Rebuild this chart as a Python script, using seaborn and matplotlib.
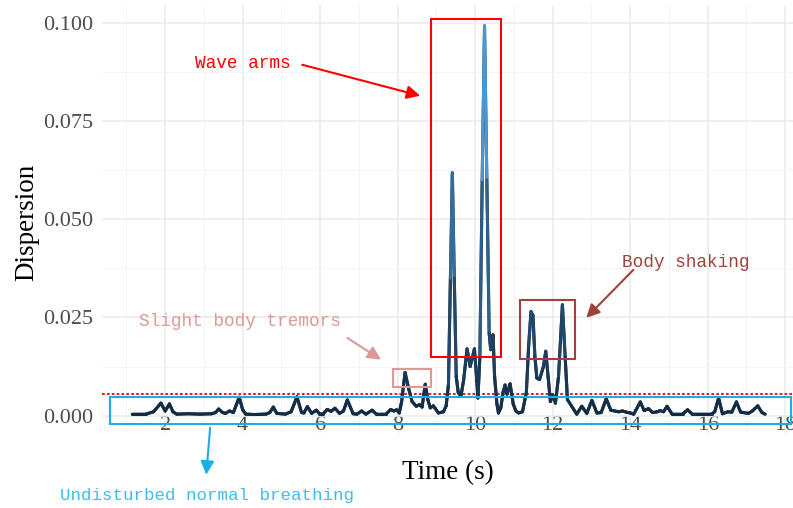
import numpy as np
import pandas as pd
import seaborn as sns
import matplotlib
matplotlib.use("Agg")
import matplotlib.pyplot as plt
from matplotlib.collections import LineCollection
from matplotlib.colors import LinearSegmentedColormap, Normalize
from matplotlib.patches import Rectangle
from matplotlib.ticker import MultipleLocator, FormatStrFormatter

# ---------------- data ----------------
time_s = [1.15, 1.50, 1.70, 1.89, 2.00, 2.11, 2.20, 2.30, 2.60, 2.90, 3.20, 3.30, 3.38, 3.48,
          3.56, 3.66, 3.76, 3.91, 4.00, 4.08, 4.30, 4.60, 4.70, 4.79, 4.88, 5.10, 5.25, 5.40,
          5.52, 5.58, 5.67, 5.78, 5.90, 5.98, 6.08, 6.18, 6.28, 6.38, 6.50, 6.60, 6.70, 6.85,
          6.95, 7.07, 7.18, 7.34, 7.45, 7.70, 7.82, 7.90, 7.97, 8.04, 8.10, 8.19, 8.28, 8.37,
          8.48, 8.56, 8.63, 8.71, 8.78, 8.84, 8.92, 9.05, 9.18, 9.25, 9.31, 9.36, 9.41, 9.46,
          9.51, 9.56, 9.63, 9.70, 9.79, 9.87, 9.98, 10.04, 10.07, 10.12, 10.18, 10.24, 10.30,
          10.36, 10.40, 10.46, 10.50, 10.56, 10.60, 10.66, 10.72, 10.77, 10.82, 10.90, 10.98,
          11.05, 11.12, 11.22, 11.32, 11.38, 11.44, 11.49, 11.54, 11.59, 11.66, 11.76, 11.82,
          11.88, 11.94, 12.00, 12.07, 12.15, 12.25, 12.32, 12.38, 12.49, 12.62, 12.75, 12.88,
          13.01, 13.14, 13.25, 13.38, 13.50, 13.60, 13.70, 13.80, 13.90, 14.00, 14.09, 14.26,
          14.36, 14.47, 14.58, 14.70, 14.77, 14.86, 14.95, 15.08, 15.35, 15.48, 15.60, 16.10,
          16.18, 16.28, 16.38, 16.52, 16.62, 16.74, 16.85, 17.05, 17.15, 17.29, 17.40, 17.48]
dispersion = [0.0004, 0.0004, 0.0010, 0.0032, 0.0012, 0.0030, 0.0010, 0.0004, 0.0005, 0.0004,
              0.0005, 0.0008, 0.0017, 0.0008, 0.0006, 0.0012, 0.0008, 0.0047, 0.0015, 0.0004,
              0.0003, 0.0004, 0.0008, 0.0022, 0.0006, 0.0004, 0.0010, 0.0048, 0.0008, 0.0007,
              0.0023, 0.0006, 0.0014, 0.0005, 0.0005, 0.0016, 0.0011, 0.0019, 0.0006, 0.0012,
              0.0040, 0.0005, 0.0004, 0.0012, 0.0004, 0.0014, 0.0004, 0.0004, 0.0016, 0.0012,
              0.0015, 0.0007, 0.0035, 0.0110, 0.0070, 0.0036, 0.0024, 0.0028, 0.0022, 0.0080,
              0.0040, 0.0020, 0.0025, 0.0007, 0.0010, 0.0025, 0.0080, 0.0350, 0.0618, 0.0350,
              0.0100, 0.0060, 0.0049, 0.0090, 0.0170, 0.0125, 0.0170, 0.0090, 0.0045, 0.0150,
              0.0600, 0.0992, 0.0600, 0.0210, 0.0168, 0.0206, 0.0100, 0.0030, 0.0007, 0.0020,
              0.0060, 0.0078, 0.0055, 0.0081, 0.0030, 0.0012, 0.0007, 0.0010, 0.0060, 0.0180,
              0.0265, 0.0255, 0.0150, 0.0096, 0.0092, 0.0125, 0.0164, 0.0100, 0.0036, 0.0053,
              0.0032, 0.0100, 0.0282, 0.0150, 0.0041, 0.0024, 0.0004, 0.0024, 0.0006, 0.0039,
              0.0007, 0.0008, 0.0043, 0.0014, 0.0012, 0.0010, 0.0012, 0.0009, 0.0007, 0.0004,
              0.0035, 0.0013, 0.0018, 0.0008, 0.0010, 0.0013, 0.0010, 0.0024, 0.0004, 0.0004,
              0.0015, 0.0004, 0.0004, 0.0010, 0.0045, 0.0005, 0.0010, 0.0009, 0.0035, 0.0009,
              0.0006, 0.0012, 0.0025, 0.0008, 0.0004]
threshold = 0.0056
x_ticks = [2, 4, 6, 8, 10, 12, 14, 16, 18]
y_ticks = [0.000, 0.025, 0.050, 0.075, 0.100]

label_wave = "Wave arms"
label_tremor = "Slight body tremors"
label_shake = "Body shaking"
label_normal = "Undisturbed normal breathing"

# ---------------- style ----------------
sns.set_theme(style="white")
plt.rcParams['font.family'] = ['Liberation Serif', 'DejaVu Serif']
mono = ['Liberation Mono', 'DejaVu Sans Mono']

fig = plt.figure(figsize=(7.93, 5.08), dpi=100)
W, H = 793, 508
pl, pr, pt, pb = 102, 793, 5, 433
ax = fig.add_axes([pl / W, 1 - pb / H, (pr - pl) / W, (pb - pt) / H])

df = pd.DataFrame({"Time": time_s, "Dispersion": dispersion})

sns.lineplot(data=df, x="Time", y="Dispersion", color="#1c3953", lw=2.2, ax=ax,
             solid_capstyle="round", solid_joinstyle="round", zorder=3)

# gradient colouring like ggplot's default continuous scale
cmap = LinearSegmentedColormap.from_list("gg", ["#132B43", "#56B1F7"])
xs = df["Time"].to_numpy()
ys = df["Dispersion"].to_numpy()
pts = np.column_stack([xs, ys]).reshape(-1, 1, 2)
segs = np.concatenate([pts[:-1], pts[1:]], axis=1)
lc = LineCollection(segs, cmap=cmap, norm=Normalize(ys.min(), ys.max()), lw=2.2,
                    capstyle="round", joinstyle="round", zorder=4)
lc.set_array((ys[:-1] + ys[1:]) / 2)
ax.add_collection(lc)

ax.axhline(threshold, color="red", ls=(0, (1.5, 1.2)), lw=1.3, zorder=2)

ax.set_xlim(0.37, 18.2)
ax.set_ylim(-0.0044, 0.1045)
ax.set_xticks(x_ticks)
ax.set_yticks(y_ticks)
ax.xaxis.set_minor_locator(MultipleLocator(1))
ax.yaxis.set_minor_locator(MultipleLocator(0.0125))
ax.yaxis.set_major_formatter(FormatStrFormatter("%.3f"))
ax.grid(which="major", color="#ebebeb", lw=1.1)
ax.grid(which="minor", color="#f4f4f4", lw=0.7)
ax.set_axisbelow(True)
for s in ax.spines.values():
    s.set_visible(False)
ax.tick_params(which="both", length=0, labelsize=16, labelcolor="#4d4d4d")
ax.tick_params(axis="x", pad=-12)
ax.tick_params(axis="y", pad=6.5)

ax.set_xlabel("Time (s)", fontsize=19.5, color="black")
ax.set_ylabel("Dispersion", fontsize=19.5, color="black")
ax.xaxis.set_label_coords((448 - pl) / (pr - pl), (pb - 473) / (pb - pt))
ax.xaxis.label.set_va("center")
ax.yaxis.set_label_coords((27 - pl) / (pr - pl), (pb - 222) / (pb - pt))
ax.yaxis.label.set_va("center")

# ---------------- annotations ----------------
def rect(x0, x1, y0, y1, color):
    ax.add_patch(Rectangle((x0, y0), x1 - x0, y1 - y0, fill=False, edgecolor=color,
                           lw=1.5, clip_on=False, zorder=5))

def arrow(start, end, color):
    ax.annotate("", xy=end, xytext=start, annotation_clip=False,
                arrowprops=dict(arrowstyle="-|>", color=color, lw=1.5, mutation_scale=20,
                                shrinkA=0, shrinkB=0), zorder=6)

c_wave, c_tremor, c_shake, c_normal = "#ff0000", "#dc9a95", "#a0413c", "#1aaee8"

rect(8.865, 10.67, 0.0150, 0.1010, c_wave)
arrow((5.535, 0.0893), (8.58, 0.0814), c_wave)
ax.text(4.01, 0.0896, label_wave, color=c_wave, family=mono, fontsize=12.8,
        ha="center", va="center")

rect(7.88, 8.865, 0.00738, 0.01196, c_tremor)
arrow((6.70, 0.0198), (7.57, 0.01425), c_tremor)
ax.text(3.935, 0.0239, label_tremor, color=c_tremor, family=mono, fontsize=12.8,
        ha="center", va="center")

rect(11.16, 12.58, 0.0145, 0.0295, c_shake)
arrow((14.08, 0.0371), (12.865, 0.0249), c_shake)
ax.text(15.445, 0.0389, label_shake, color=c_shake, family=mono, fontsize=12.8,
        ha="center", va="center")

rect(0.58, 18.15, -0.00204, 0.00483, c_normal)
arrow((3.16, -0.00305), (3.06, -0.0150), c_normal)
ax.text(3.084, -0.0204, label_normal, color="#3dbdf0", family=mono, fontsize=12.6,
        ha="center", va="center", clip_on=False)

fig.savefig("out.png", dpi=100)
